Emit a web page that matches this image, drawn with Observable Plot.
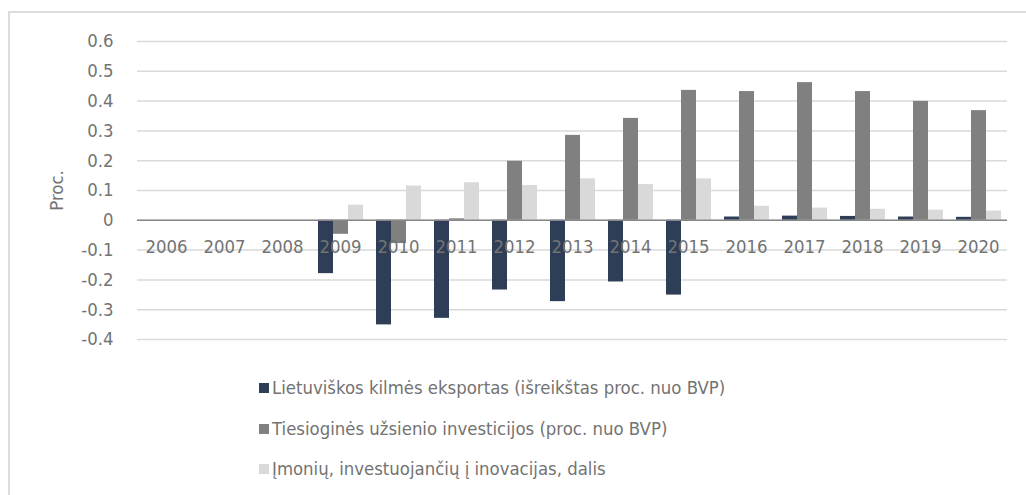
<!DOCTYPE html>
<html>
<head>
<meta charset="utf-8">
<script src="https://cdn.jsdelivr.net/npm/d3@7"></script>
<script src="https://cdn.jsdelivr.net/npm/@observablehq/plot@0.6"></script>
<style>
  html, body { margin: 0; padding: 0; background: #fff; }
  #wrap { position: relative; width: 1026px; height: 495px; overflow: hidden; font-family: "DejaVu Sans Condensed", "DejaVu Sans", sans-serif; }
  #box { position: absolute; left: 8px; top: 11px; width: 1100px; height: 600px; border-left: 2px solid #dcdcdc; border-top: 2px solid #dcdcdc; }
  #chart { position: absolute; left: 0; top: 0; }
  #legend { position: absolute; left: 259px; top: 368px; color: #737373; font-size: 18.4px; }
  .row { height: 40.5px; line-height: 40.5px; display: flex; align-items: center; white-space: nowrap; }
  .sw { width: 10px; height: 10px; margin-right: 3px; flex: none; }
</style>
</head>
<body>
<div id="wrap">
  <div id="box"></div>
  <div id="chart"></div>
  <div id="legend"></div>
</div>
<script>
const years = ["2006","2007","2008","2009","2010","2011","2012","2013","2014","2015","2016","2017","2018","2019","2020"];
const seriesNames = [
  "Lietuviškos kilmės eksportas (išreikštas proc. nuo BVP)",
  "Tiesioginės užsienio investicijos (proc. nuo BVP)",
  "Įmonių, investuojančių į inovacijas, dalis"
];
const seriesColors = ["#2e3e56", "#808080", "#d9d9d9"];
const exportShare = [null, null, null, -0.179, -0.351, -0.329, -0.234, -0.273, -0.207, -0.251, 0.011, 0.014, 0.013, 0.011, 0.010];
const fdiShare    = [null, null, null, -0.047, -0.078, 0.005, 0.198, 0.285, 0.342, 0.436, 0.432, 0.462, 0.432, 0.399, 0.368];
const innovShare  = [null, null, null, 0.051, 0.115, 0.126, 0.117, 0.139, 0.120, 0.139, 0.047, 0.041, 0.037, 0.034, 0.031];
const yTicks = [-0.4, -0.3, -0.2, -0.1, 0, 0.1, 0.2, 0.3, 0.4, 0.5, 0.6];

const seriesValues = [exportShare, fdiShare, innovShare];
const rows = [];
years.forEach((yr, i) => {
  seriesNames.forEach((s, j) => {
    const v = seriesValues[j][i];
    if (v != null) rows.push({year: yr, series: s, value: v});
  });
});

const textColor = "#737373";

const chart = Plot.plot({
  width: 1026,
  height: 350,
  marginLeft: 132,
  marginRight: 14,
  marginTop: 41,
  marginBottom: 11,
  style: {fontFamily: "'DejaVu Sans Condensed', 'DejaVu Sans', sans-serif", fontSize: "18.4px", color: textColor, background: "transparent", overflow: "visible"},
  fx: {domain: years, padding: 0, axis: null},
  x: {domain: seriesNames, paddingInner: 0, paddingOuter: 0.417, axis: null},
  y: {domain: [-0.4, 0.6], ticks: yTicks, tickFormat: d => d === 0 ? "0" : d.toFixed(1), tickSize: 0, tickPadding: 24, label: "Proc.", labelArrow: false, labelAnchor: "center", labelOffset: 88},
  color: {domain: seriesNames, range: seriesColors},
  marks: [
    Plot.ruleY(yTicks, {stroke: "#d9d9d9", strokeWidth: 1.5}),
    Plot.barY(rows, {fx: "year", x: "series", y: "value", fill: "series"}),
    Plot.ruleY([0], {stroke: "#878787", strokeWidth: 1.5}),
    Plot.text(years, {fx: d => d, y: d => 0, text: d => d, dy: 27, lineAnchor: "middle", fill: textColor, fontSize: 18.4})
  ]
});
document.getElementById("chart").appendChild(chart);

const legend = document.getElementById("legend");
seriesNames.forEach((s, j) => {
  const row = document.createElement("div");
  row.className = "row";
  const sw = document.createElement("span");
  sw.className = "sw";
  sw.style.background = seriesColors[j];
  const t = document.createElement("span");
  t.textContent = s;
  row.appendChild(sw);
  row.appendChild(t);
  legend.appendChild(row);
});
</script>
</body>
</html>
